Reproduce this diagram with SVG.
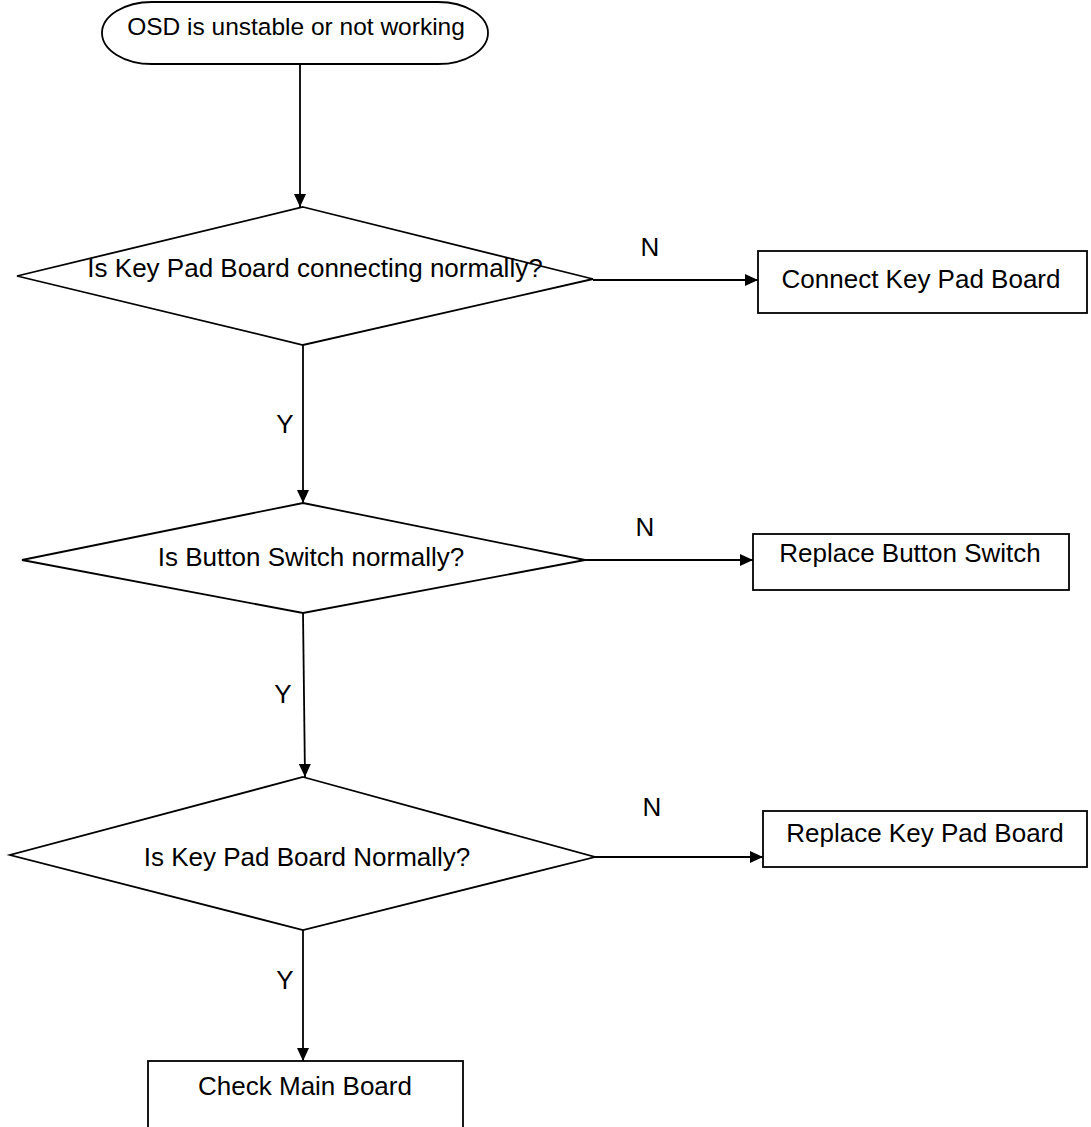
<svg xmlns="http://www.w3.org/2000/svg" width="1091" height="1127" viewBox="0 0 1091 1127">
<defs>
<marker id="arr" markerWidth="13" markerHeight="12" refX="13" refY="6" orient="auto" markerUnits="userSpaceOnUse" viewBox="0 0 13 12">
<path d="M0,0 L13,6 L0,12 Z" fill="#000"/>
</marker>
<style>
.s{fill:#fff;stroke:#000;stroke-width:1.8}
.t{font-family:"Liberation Sans",Arial,sans-serif;font-size:26px;fill:#000;text-anchor:middle}
.c{stroke:#000;stroke-width:1.8;fill:none}
</style>
</defs>
<rect width="1091" height="1127" fill="#fff"/>
<g id="start">
<rect class="s" x="102" y="2" width="386" height="62" rx="50" ry="31"/>
<text class="t" x="296" y="35" style="font-size:24.5px">OSD is unstable or not working</text>
</g>
<g id="d1">
<polygon class="s" points="303,207 593,279 303,345 17,276"/>
<text class="t" x="315" y="277">Is Key Pad Board connecting normally?</text>
</g>
<g id="b1">
<rect class="s" x="758" y="251" width="329" height="62"/>
<text class="t" x="921" y="288">Connect Key Pad Board</text>
</g>
<g id="d2">
<polygon class="s" points="303,503 585,560 303,613 22,560"/>
<text class="t" x="311" y="566">Is Button Switch normally?</text>
</g>
<g id="b2">
<rect class="s" x="753" y="534" width="316" height="56"/>
<text class="t" x="910" y="562">Replace Button Switch</text>
</g>
<g id="d3">
<polygon class="s" points="303,777 595,857 303,930 10,855"/>
<text class="t" x="307" y="866">Is Key Pad Board Normally?</text>
</g>
<g id="b3">
<rect class="s" x="763" y="811" width="324" height="56"/>
<text class="t" x="925" y="842">Replace Key Pad Board</text>
</g>
<g id="b4">
<rect class="s" x="148" y="1061" width="315" height="80"/>
<text class="t" x="305" y="1095">Check Main Board</text>
</g>
<g id="connectors">
<line class="c" x1="300" y1="64" x2="300" y2="207" marker-end="url(#arr)"/>
<line class="c" x1="593" y1="280" x2="758" y2="280" marker-end="url(#arr)"/>
<line class="c" x1="303" y1="345" x2="303" y2="503" marker-end="url(#arr)"/>
<line class="c" x1="585" y1="560" x2="753" y2="560" marker-end="url(#arr)"/>
<line class="c" x1="303" y1="613" x2="305" y2="777" marker-end="url(#arr)"/>
<line class="c" x1="595" y1="857" x2="763" y2="857" marker-end="url(#arr)"/>
<line class="c" x1="303" y1="930" x2="303" y2="1061" marker-end="url(#arr)"/>
<text class="t" x="650" y="256">N</text>
<text class="t" x="285" y="433">Y</text>
<text class="t" x="645" y="536">N</text>
<text class="t" x="283" y="703">Y</text>
<text class="t" x="652" y="816">N</text>
<text class="t" x="285" y="989">Y</text>
</g>
</svg>
